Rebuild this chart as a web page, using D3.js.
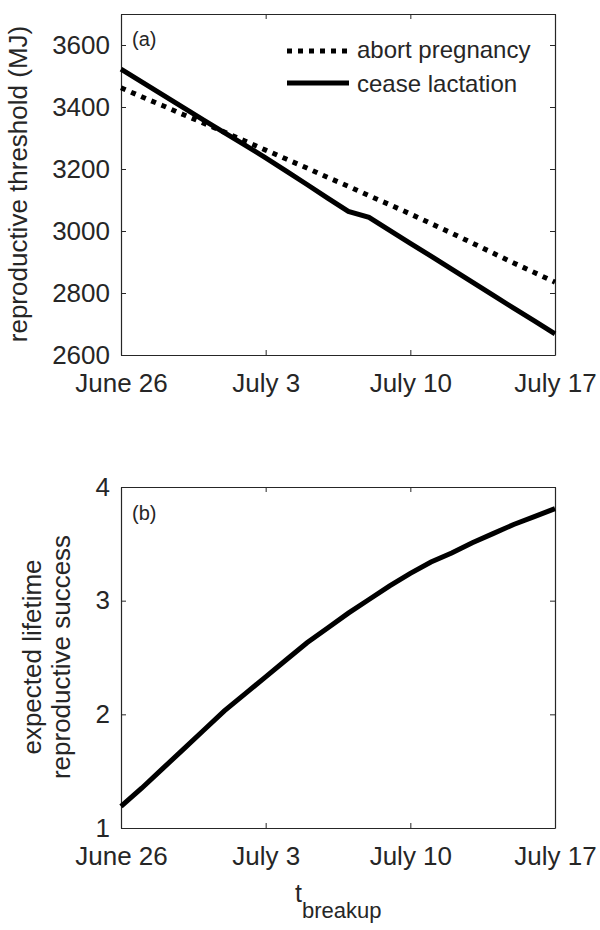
<!DOCTYPE html>
<html><head><meta charset="utf-8">
<script src="https://cdn.jsdelivr.net/npm/d3@7"></script>
<style>body{margin:0;background:#fff}svg{display:block}text{font-family:"Liberation Sans",Arial,sans-serif;fill:#262626}</style>
</head><body>
<svg id="c" width="600" height="930"></svg>
<script>
const days = d3.range(0, 22); // days since June 26
const tickDays = [0, 7, 14, 21];
const tickLabels = ["June 26", "July 3", "July 10", "July 17"];
const abortPregnancy = [3462,3433,3405,3376,3348,3319,3290,3261,3232,3203,3173,3144,3114,3085,3055,3024,2993,2961,2929,2897,2866,2835];
const ceaseLactation = [3522,3481,3440,3399,3358,3317,3277,3236,3193,3150,3106,3063,3044,3002,2960,2919,2877,2835,2793,2751,2710,2668];
const successValues = [1.19,1.35,1.52,1.69,1.86,2.03,2.18,2.33,2.48,2.63,2.76,2.89,3.01,3.13,3.24,3.34,3.42,3.51,3.59,3.67,3.74,3.81];
const yTicksA = [2600,2800,3000,3200,3400,3600];
const yTicksB = [1,2,3,4];

const svg = d3.select("#c");
const L = 121, R = 555;
const FS = 26;
const x = d3.scaleLinear().domain([0,21]).range([L,R]);

function panel(top, bottom, yDomain, yTicks) {
  const y = d3.scaleLinear().domain(yDomain).range([bottom, top]);
  const g = svg.append("g");
  const bot = g.append("g").attr("transform",`translate(0,${bottom})`)
    .call(d3.axisBottom(x).tickValues(tickDays).tickFormat((d,i)=>tickLabels[i]).tickSizeInner(-5).tickSizeOuter(0).tickPadding(19));
  const topAx = g.append("g").attr("transform",`translate(0,${top})`)
    .call(d3.axisTop(x).tickValues(tickDays).tickFormat("").tickSizeInner(-5).tickSizeOuter(0));
  const left = g.append("g").attr("transform",`translate(${L},0)`)
    .call(d3.axisLeft(y).tickValues(yTicks).tickFormat(d3.format("d")).tickSizeInner(-5).tickSizeOuter(0).tickPadding(11));
  const right = g.append("g").attr("transform",`translate(${R},0)`)
    .call(d3.axisRight(y).tickValues(yTicks).tickFormat("").tickSizeInner(-5).tickSizeOuter(0));
  [bot, topAx, left, right].forEach(a => {
    a.selectAll("path,line").attr("stroke","#262626");
    a.selectAll("text").attr("font-size",FS).attr("fill","#262626").attr("font-family","Liberation Sans, Arial, sans-serif");
    a.select(".domain").attr("stroke-width",1.2);
  });
  return {g, y};
}

// Panel (a)
const A = panel(14, 355, [2600, 3700], yTicksA);
const lineA = (vals) => d3.line().x((d,i)=>x(days[i])).y(d=>A.y(d))(vals);
A.g.append("path").attr("d", lineA(abortPregnancy)).attr("fill","none").attr("stroke","#000")
  .attr("stroke-width",5).attr("stroke-dasharray","5,6");
A.g.append("path").attr("d", lineA(ceaseLactation)).attr("fill","none").attr("stroke","#000")
  .attr("stroke-width",5);
A.g.append("text").attr("x",132).attr("y",46).attr("font-size",20).attr("fill","#000").text("(a)");
// legend
A.g.append("line").attr("x1",287).attr("x2",349).attr("y1",51).attr("y2",51).attr("stroke","#000").attr("stroke-width",5).attr("stroke-dasharray","5,6");
A.g.append("line").attr("x1",287).attr("x2",349).attr("y1",83).attr("y2",83).attr("stroke","#000").attr("stroke-width",5);
A.g.append("text").attr("x",357).attr("y",58).attr("font-size",24).attr("fill","#000").text("abort pregnancy");
A.g.append("text").attr("x",357).attr("y",92).attr("font-size",24).attr("fill","#000").text("cease lactation");
svg.append("text").attr("transform","translate(27,184) rotate(-90)").attr("text-anchor","middle").attr("font-size",FS).text("reproductive threshold (MJ)");

// Panel (b)
const B = panel(487, 828, [1, 4], yTicksB);
B.g.append("path").attr("d", d3.line().x((d,i)=>x(days[i])).y(d=>B.y(d))(successValues))
  .attr("fill","none").attr("stroke","#000").attr("stroke-width",5);
B.g.append("text").attr("x",132).attr("y",520).attr("font-size",20).attr("fill","#000").text("(b)");
svg.append("text").attr("transform","translate(41,657) rotate(-90)").attr("text-anchor","middle").attr("font-size",FS).text("expected lifetime");
svg.append("text").attr("transform","translate(70,657) rotate(-90)").attr("text-anchor","middle").attr("font-size",FS).text("reproductive success");

const xl = svg.append("text").attr("x",295).attr("y",902).attr("font-size",25);
xl.append("tspan").text("t");
xl.append("tspan").attr("dy",16).attr("font-size",22).text("breakup");
</script>
</body></html>
